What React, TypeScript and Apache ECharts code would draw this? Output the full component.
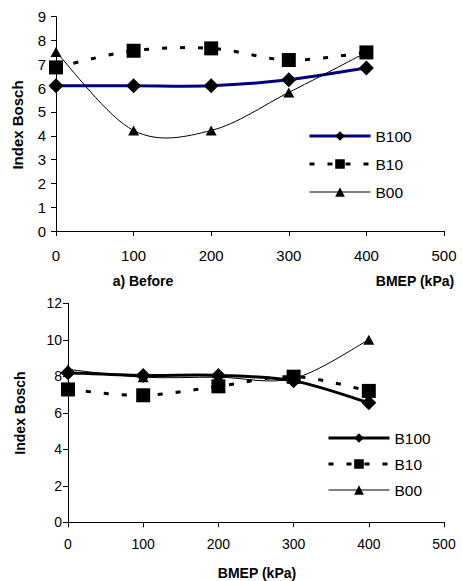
import React, { useEffect, useRef } from "react";
import * as echarts from "echarts";

const xValues = [0, 100, 200, 300, 400];
const xTickLabels = ["0", "100", "200", "300", "400", "500"];
const seriesNames = ["B100", "B10", "B00"];

const topB100 = [6.1, 6.1, 6.1, 6.35, 6.85];
const topB10 = [6.87, 7.57, 7.67, 7.18, 7.5];
const topB00 = [7.52, 4.22, 4.22, 5.82, 7.5];

const botB100 = [8.2, 8.05, 8.05, 7.75, 6.55];
const botB10 = [7.28, 6.96, 7.45, 7.98, 7.2];
const botB00 = [8.38, 7.95, 7.95, 7.88, 10.0];

const FONT = "'Liberation Sans', Arial, sans-serif";

const pairs = (ys: number[]) => xValues.map((x, i) => [x, ys[i]]);

// Excel-like smoothed curve (Catmull-Rom as cubic Bezier) through the data points,
// positioned via the chart's own coordinate system (api.coord).
function curveSeries(name: string, ys: number[], stroke: string, width: number, dash: any, z: number) {
  return {
    name: name + "-curve",
    type: "custom",
    data: pairs(ys),
    encode: { x: 0, y: 1 },
    z,
    silent: true,
    renderItem: (params: any, api: any) => {
      if (params.dataIndex !== 0) return null;
      const pts = ys.map((y, i) => api.coord([xValues[i], y]));
      const n = pts.length;
      let d = `M ${pts[0][0]} ${pts[0][1]}`;
      for (let i = 0; i < n - 1; i++) {
        const p0 = pts[i - 1] || pts[i];
        const p1 = pts[i];
        const p2 = pts[i + 1];
        const p3 = pts[i + 2] || pts[i + 1];
        const c1x = p1[0] + (p2[0] - p0[0]) / 6;
        const c1y = p1[1] + (p2[1] - p0[1]) / 6;
        const c2x = p2[0] - (p3[0] - p1[0]) / 6;
        const c2y = p2[1] - (p3[1] - p1[1]) / 6;
        d += ` C ${c1x} ${c1y} ${c2x} ${c2y} ${p2[0]} ${p2[1]}`;
      }
      return {
        type: "path",
        shape: { pathData: d },
        style: { fill: "none", stroke, lineWidth: width, lineDash: dash, lineCap: "butt" },
      };
    },
  };
}

function buildOption(cfg: any) {
  const dash = [5, 13];
  return {
    animation: false,
    backgroundColor: "#fff",
    grid: cfg.grid,
    legend: {
      orient: "vertical",
      left: cfg.legendLeft,
      top: cfg.legendTop,
      itemWidth: 61,
      itemHeight: 12,
      itemGap: cfg.legendGap,
      data: [
        { name: seriesNames[0], lineStyle: { color: cfg.b100Color, width: 3, type: "solid", opacity: 1 } },
        { name: seriesNames[1], lineStyle: { color: "#000", width: 3, type: dash, opacity: 1, cap: "butt" } },
        { name: seriesNames[2], lineStyle: { color: "#000", width: 1, type: "solid", opacity: 1 } },
      ],
      textStyle: { fontFamily: FONT, fontSize: 15.5, color: "#000" },
      selectedMode: false,
    },
    xAxis: {
      type: "value",
      min: 0,
      max: 500,
      interval: 100,
      axisLine: { show: true, lineStyle: { color: "#000", width: 1 } },
      axisTick: { show: true, length: 5, lineStyle: { color: "#000" } },
      axisLabel: {
        color: "#000",
        fontSize: cfg.tickSize,
        fontFamily: FONT,
        margin: cfg.xMargin,
        formatter: (v: number) => xTickLabels[Math.round(v / 100)],
      },
      splitLine: { show: false },
    },
    yAxis: {
      type: "value",
      min: 0,
      max: cfg.yMax,
      interval: cfg.yInterval,
      axisLine: { show: true, lineStyle: { color: "#000", width: 1 } },
      axisTick: { show: true, length: 5, lineStyle: { color: "#000" } },
      axisLabel: { color: "#000", fontSize: cfg.tickSize, fontFamily: FONT, margin: cfg.yMargin },
      splitLine: { show: false },
    },
    graphic: cfg.graphic,
    series: [
      curveSeries(seriesNames[0], cfg.b100, cfg.b100Color, 3, null, 2),
      curveSeries(seriesNames[1], cfg.b10, "#000", 3, dash, 2),
      curveSeries(seriesNames[2], cfg.b00, "#000", 1, null, 2),
      {
        name: seriesNames[0],
        type: "line",
        data: pairs(cfg.b100),
        symbol: "diamond",
        symbolSize: 15,
        itemStyle: { color: "#000" },
        lineStyle: { color: cfg.b100Color, width: 3, opacity: 0 },
        z: 5,
      },
      {
        name: seriesNames[1],
        type: "line",
        data: pairs(cfg.b10),
        symbol: "rect",
        symbolSize: 14,
        itemStyle: { color: "#000" },
        lineStyle: { color: "#000", width: 3, type: dash, opacity: 0 },
        z: 6,
      },
      {
        name: seriesNames[2],
        type: "line",
        data: pairs(cfg.b00),
        symbol: "triangle",
        symbolSize: [11, 10],
        itemStyle: { color: "#000" },
        lineStyle: { color: "#000", width: 1, opacity: 0 },
        z: 4,
      },
    ],
  };
}

function textEl(text: string, x: number, y: number, size: number, rotate = false) {
  return {
    type: "text",
    x,
    y,
    rotation: rotate ? Math.PI / 2 : 0,
    style: {
      text,
      font: `bold ${size}px ${FONT}`,
      fill: "#000",
      textAlign: "center",
      textVerticalAlign: "middle",
    },
  };
}

const topCfg = {
  grid: { left: 56, top: 16.7, width: 388, height: 214.3 },
  yMax: 9,
  yInterval: 1,
  tickSize: 15,
  xMargin: 17,
  yMargin: 10,
  legendLeft: 303,
  legendTop: 123,
  legendGap: 12,
  b100: topB100,
  b10: topB10,
  b00: topB00,
  b100Color: "#000080",
  graphic: [
    textEl("Index Bosch", 17, 125, 15, true),
    textEl("a) Before", 143, 281, 14),
    textEl("BMEP (kPa)", 415, 281, 14),
  ],
};

const botCfg = {
  grid: { left: 68, top: 13.3, width: 376, height: 219 },
  yMax: 12,
  yInterval: 2,
  tickSize: 14,
  xMargin: 15,
  yMargin: 6,
  legendLeft: 322,
  legendTop: 135,
  legendGap: 10,
  b100: botB100,
  b10: botB10,
  b00: botB00,
  b100Color: "#000",
  graphic: [
    textEl("Index Bosch", 20, 123, 14, true),
    textEl("BMEP (kPa)", 257, 283, 14),
  ],
};

function Chart({ cfg, top, height }: { cfg: any; top: number; height: number }) {
  const ref = useRef<HTMLDivElement>(null);
  useEffect(() => {
    if (!ref.current) return;
    const chart = echarts.init(ref.current, undefined, { renderer: "svg" });
    chart.setOption(buildOption(cfg));
    return () => chart.dispose();
  }, [cfg]);
  return (
    <div
      ref={ref}
      style={{ position: "absolute", left: 0, top, width: 462, height }}
    />
  );
}

export default function App() {
  return (
    <div style={{ position: "absolute", left: 0, top: 0, width: 462, height: 581, background: "#fff" }}>
      <Chart cfg={topCfg} top={0} height={290} />
      <Chart cfg={botCfg} top={290} height={291} />
    </div>
  );
}
